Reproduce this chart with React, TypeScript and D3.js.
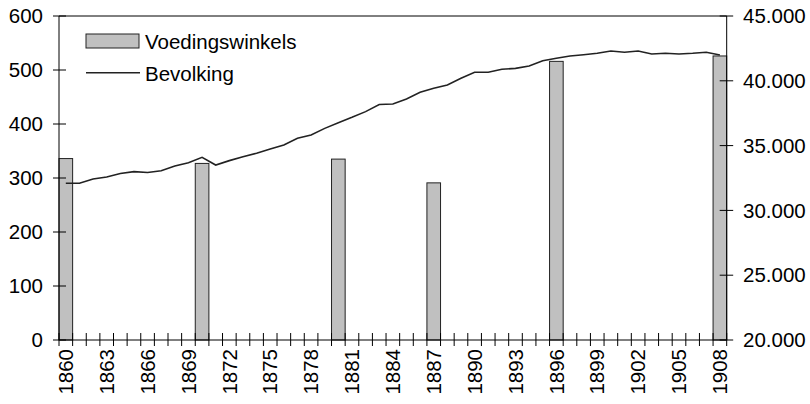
import React from "react";
import * as d3 from "d3";

const years: number[] = d3.range(1860, 1909);
const barYears: number[] = [1860, 1870, 1880, 1887, 1896, 1908];
const barValues: number[] = [336, 327, 335, 291, 516, 526];
const population: number[] = [
  32090, 32090, 32420, 32580, 32850, 32990, 32920, 33060, 33430, 33680,
  34100, 33500, 33840, 34140, 34410, 34740, 35050, 35560, 35820, 36330,
  36770, 37180, 37620, 38170, 38210, 38600, 39110, 39420, 39680, 40190,
  40660, 40660, 40890, 40960, 41140, 41550, 41740, 41910, 42010, 42120,
  42300, 42200, 42300, 42070, 42120, 42070, 42120, 42200, 41990,
];
const leftTicks: number[] = [0, 100, 200, 300, 400, 500, 600];
const rightTicks: number[] = [20000, 25000, 30000, 35000, 40000, 45000];
const labelYears: number[] = d3.range(1860, 1909, 3);
const seriesNames: string[] = ["Voedingswinkels", "Bevolking"];

const W = 810;
const H = 404;
const L = 59;
const R = 726.7;
const T = 16;
const B = 340;
const FONT = "'Liberation Sans', Arial, sans-serif";
const FS = 20.5;

export default function App() {
  const x = d3.scaleBand<number>().domain(years).range([L, R]).padding(0);
  const yL = d3.scaleLinear().domain([0, 600]).range([B, T]);
  const yR = d3.scaleLinear().domain([20000, 45000]).range([B, T]);
  const bw = x.bandwidth();
  const line = d3
    .line<number>()
    .x((_, i) => (x(years[i]) as number) + bw / 2)
    .y((d) => yR(d));
  const fmt = (v: number) => d3.format(",")(v).replace(/,/g, ".");
  const boundaries = d3.range(0, years.length + 1).map((i) => L + i * bw);

  return (
    <svg
      width={W}
      height={H}
      style={{ position: "absolute", left: 0, top: 0, background: "#fff" }}
      fontFamily={FONT}
      fontSize={FS}
    >
      <rect x={0} y={0} width={W} height={H} fill="#fff" />
      {/* bars */}
      {barYears.map((yr, i) => (
        <rect
          key={yr}
          x={x(yr)}
          y={yL(barValues[i])}
          width={bw}
          height={B - yL(barValues[i])}
          fill="#c0c0c0"
          stroke="#222"
          strokeWidth={1}
        />
      ))}
      {/* line */}
      <path d={line(population) || ""} fill="none" stroke="#222" strokeWidth={1.6} />
      {/* frame */}
      <line x1={L} x2={R} y1={T} y2={T} stroke="#000" strokeWidth={1} />
      <line x1={L} x2={L} y1={T} y2={B} stroke="#000" strokeWidth={1} />
      <line x1={R} x2={R} y1={T} y2={B} stroke="#000" strokeWidth={1} />
      <line x1={L} x2={R} y1={B} y2={B} stroke="#000" strokeWidth={1} />
      {/* left axis */}
      {leftTicks.map((t) => (
        <g key={"l" + t}>
          <line x1={L - 6} x2={L + 7} y1={yL(t)} y2={yL(t)} stroke="#000" />
          <text x={43} y={yL(t)} dy="0.35em" textAnchor="end" fill="#000">
            {t}
          </text>
        </g>
      ))}
      {/* right axis */}
      {rightTicks.map((t) => (
        <g key={"r" + t}>
          <line x1={R - 7} x2={R + 6.5} y1={yR(t)} y2={yR(t)} stroke="#000" />
          <text x={743} y={yR(t)} dy="0.35em" textAnchor="start" fill="#000">
            {fmt(t)}
          </text>
        </g>
      ))}
      {/* category axis ticks */}
      {boundaries.map((bx, i) => (
        <line key={"c" + i} x1={bx} x2={bx} y1={B - 7} y2={B + 6} stroke="#000" />
      ))}
      {labelYears.map((yr) => {
        const cx = (x(yr) as number) + bw / 2;
        return (
          <text
            key={"y" + yr}
            transform={`translate(${cx},349) rotate(-90)`}
            dy="0.35em"
            textAnchor="end"
            fill="#000"
          >
            {yr}
          </text>
        );
      })}
      {/* legend */}
      <rect x={86} y={34} width={53} height={14} fill="#c0c0c0" stroke="#222" />
      <text x={145} y={48.5} fill="#000">
        {seriesNames[0]}
      </text>
      <line x1={86} x2={140} y1={72.7} y2={72.7} stroke="#222" strokeWidth={1.6} />
      <text x={145} y={80.5} fill="#000">
        {seriesNames[1]}
      </text>
    </svg>
  );
}
